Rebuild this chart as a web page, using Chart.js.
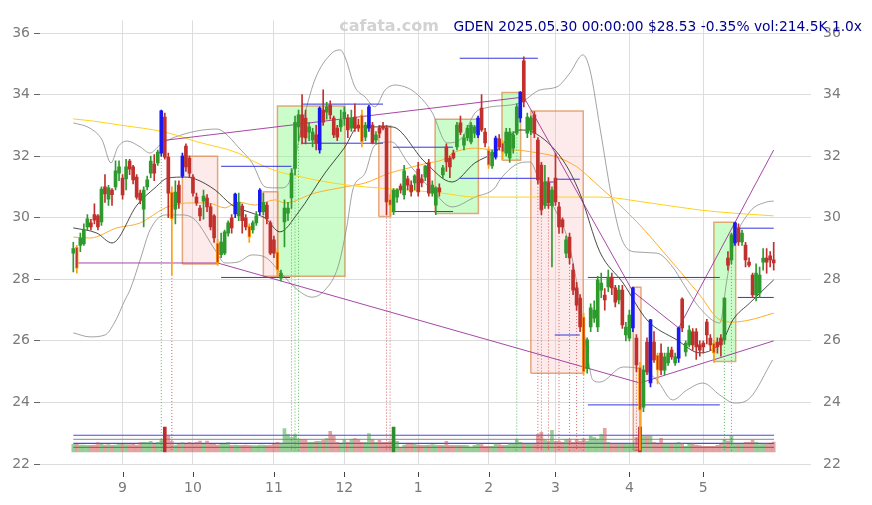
<!DOCTYPE html>
<html>
<head>
<meta charset="utf-8">
<script src="https://cdn.jsdelivr.net/npm/chart.js@4.4.1/dist/chart.umd.min.js"></script>
<style>
  html, body { margin: 0; padding: 0; background: #fff; }
  #wrap { width: 872px; height: 505px; }
</style>
</head>
<body>
<div id="wrap"><canvas id="chart" width="872" height="505"></canvas></div>
<script>
// GDEN daily candles, 2024-08-13 .. 2025-05-30 (x = trading day index)
const titleText = 'GDEN 2025.05.30 00:00:00 $28.53 -0.35% vol:214.5K 1.0x';
const watermark = 'cafata.com';

const monthStarts = [14, 34, 57, 77, 98, 118, 137, 158, 179];
const monthLabels = ['9', '10', '11', '12', '1', '2', '3', '4', '5'];
const priceTicks = [22, 24, 26, 28, 30, 32, 34, 36];

const opens = [
  28.85,29.05,29.1,29.15,29.7,29.83,30.1,30.06,29.86,31.0,
  30.6,30.9,31.0,31.45,31.29,31.26,31.84,31.65,31.32,30.8,
  30.28,31.0,31.45,31.74,31.78,32.1,33.27,31.97,30.83,30.28,
  31.06,31.35,32.33,31.94,31.32,30.67,30.31,30.54,30.64,30.35,
  30.06,29.18,28.8,28.85,29.5,30.0,30.12,30.06,30.38,30.0,
  29.73,29.6,29.83,30.19,30.2,30.41,29.83,29.28,28.89,28.04,
  29.86,30.15,30.64,31.6,32.95,33.34,33.24,32.78,32.52,32.69,
  32.2,33.5,33.43,33.66,33.24,32.91,32.95,33.24,33.24,32.91,
  33.27,33.01,33.34,32.62,32.91,33.01,32.52,32.91,32.98,32.91,
  30.6,30.19,30.67,31.03,30.74,31.26,31.06,31.13,31.58,31.26,
  31.32,31.78,30.8,30.41,30.97,31.39,32.3,31.94,32.1,32.3,
  33.08,32.36,32.59,32.46,32.75,32.69,33.56,32.78,32.2,31.68,
  31.97,32.56,32.43,32.1,31.94,32.26,32.75,33.24,35.1,32.75,
  32.85,33.34,32.52,31.71,30.41,31.13,30.41,31.29,30.35,29.93,
  28.85,29.37,28.3,27.72,27.39,26.78,25.1,26.45,26.74,26.45,
  27.65,27.49,27.75,28.07,27.72,27.33,27.65,26.19,26.09,26.42,
  26.09,25.15,23.85,25.96,24.63,25.96,25.54,25.6,25.05,25.28,
  25.7,25.28,25.44,27.36,25.64,25.87,26.29,26.29,25.87,25.93,
  26.61,26.09,25.93,25.96,26.09,26.03,28.69,28.63,29.18,29.67,
  29.21,29.11,28.56,28.14,27.49,27.55,28.56,28.69,28.76,28.63
];
const highs = [
  29.2,29.1,29.5,29.8,30.1,29.95,30.45,30.1,31.0,31.4,
  31.05,30.95,31.85,31.85,31.4,31.9,31.9,31.7,31.4,30.9,
  31.0,31.35,32.0,32.05,32.2,33.5,33.4,32.1,31.0,31.2,
  31.2,32.1,32.4,32.0,31.4,30.8,30.4,30.9,30.75,30.45,
  30.1,29.3,29.5,29.6,29.9,30.1,30.8,30.8,30.45,30.1,
  29.8,29.9,30.2,30.95,30.8,30.5,29.9,29.4,29.0,28.3,
  30.58,30.5,31.6,33.3,33.5,34.0,33.5,33.1,32.9,33.0,
  33.6,34.15,33.75,33.8,33.3,33.0,33.5,33.6,33.35,33.5,
  33.7,33.2,33.5,33.1,33.65,33.1,32.8,33.0,33.1,33.0,
  30.75,30.95,30.95,31.1,31.7,31.35,31.2,31.4,31.8,31.4,
  31.7,31.9,31.2,31.0,31.1,31.7,32.4,32.0,32.2,33.1,
  33.3,32.7,33.0,33.1,33.0,33.3,34.0,32.9,32.3,32.2,
  32.65,32.7,32.5,32.9,32.9,32.8,33.7,34.1,35.23,33.4,
  33.3,33.45,32.6,31.8,31.7,31.3,31.0,32.1,30.5,30.0,
  29.4,29.5,28.5,27.9,27.5,26.9,26.1,27.2,27.3,28.1,
  28.2,27.7,28.3,28.2,27.8,27.8,27.8,26.6,27.0,27.75,
  26.2,25.3,25.2,26.1,26.7,26.3,25.6,25.9,25.6,25.8,
  25.8,25.6,26.45,27.4,26.0,26.5,26.4,26.4,26.0,26.0,
  26.7,26.2,26.0,26.1,26.2,27.4,28.9,29.5,29.85,29.8,
  29.6,29.2,28.7,28.2,28.5,28.4,29.0,29.0,28.9,29.2
];
const lows = [
  28.24,28.2,28.9,29.1,29.6,29.6,29.8,29.6,29.75,30.5,
  30.4,30.4,30.9,31.2,30.6,30.9,31.4,31.1,30.6,30.45,
  29.7,30.9,31.3,31.2,31.7,32.0,31.9,30.0,28.14,29.8,
  30.3,31.3,31.5,31.3,30.7,30.4,29.9,29.95,30.2,29.6,
  29.2,28.45,28.7,28.8,29.4,29.5,30.0,29.9,29.5,29.6,
  29.2,29.5,29.75,30.1,30.1,29.8,28.8,28.7,28.1,27.95,
  29.05,29.9,30.3,31.4,32.5,32.4,32.4,32.5,32.3,32.2,
  32.1,33.0,33.2,33.2,32.6,32.5,32.8,33.0,32.6,32.8,
  32.8,32.8,32.3,32.5,32.8,32.4,32.4,32.6,32.85,30.1,
  30.1,30.1,30.5,30.8,30.6,30.9,30.7,30.9,30.7,31.0,
  31.2,30.7,30.7,30.1,30.7,31.3,31.5,31.3,31.9,32.2,
  32.7,32.2,32.5,32.4,32.6,32.6,32.8,32.3,31.6,31.6,
  31.9,32.2,31.9,32.0,31.8,32.1,32.7,33.1,33.6,32.6,
  32.7,32.6,31.1,30.1,30.3,30.3,28.4,30.4,29.5,29.5,
  28.7,28.5,27.5,27.0,26.3,24.9,24.95,26.3,26.6,26.3,
  27.4,27.0,27.6,27.5,27.1,27.2,26.4,26.0,26.0,26.3,
  25.0,22.45,23.7,24.9,24.5,25.3,24.6,24.9,24.9,25.2,
  25.4,25.2,25.3,26.3,25.5,25.8,25.7,25.4,25.5,25.6,
  25.9,25.7,25.3,25.6,25.5,25.9,28.3,28.5,29.1,29.1,
  29.1,28.4,28.4,27.4,27.3,27.4,28.3,28.2,28.4,28.3
];
const closes = [
  29.0,28.35,29.34,29.6,29.96,29.7,29.92,29.7,30.93,30.77,
  30.97,30.75,31.52,31.65,30.74,31.65,31.58,31.23,30.67,30.58,
  30.9,31.23,31.84,31.45,32.13,33.47,31.97,30.8,29.96,30.83,
  30.48,32.0,31.65,31.45,30.8,30.48,30.06,30.7,30.35,29.7,
  29.34,28.53,29.21,29.54,29.83,29.67,30.77,30.5,29.9,29.7,
  29.37,29.83,30.06,30.9,30.5,29.96,28.85,28.85,28.3,28.2,
  30.31,30.31,31.45,33.1,33.34,32.62,32.59,32.95,32.78,32.43,
  33.56,33.1,33.6,33.34,32.69,32.62,33.17,33.43,32.85,33.24,
  32.91,32.91,32.46,33.01,33.6,32.43,32.69,32.75,32.91,30.51,
  30.4,30.9,30.9,30.9,31.52,31.06,30.84,31.36,30.84,31.13,
  31.68,30.8,31.06,30.97,30.84,31.62,31.81,31.65,31.94,33.01,
  32.78,32.59,32.91,33.01,32.95,33.24,32.85,32.43,31.71,32.13,
  32.59,32.3,32.13,32.78,32.78,32.69,33.6,34.08,33.76,33.27,
  33.24,32.75,31.23,30.25,31.16,30.48,30.9,30.51,29.7,29.7,
  29.28,28.69,27.65,27.16,26.45,24.99,26.03,27.07,27.0,27.98,
  27.88,27.33,28.07,27.72,27.26,27.65,26.52,26.45,26.84,27.72,
  25.22,23.75,25.05,24.99,26.68,25.38,25.05,25.05,25.48,25.6,
  25.48,25.48,26.42,26.42,25.93,26.35,25.87,25.8,25.7,25.8,
  26.19,25.87,25.6,25.8,25.87,27.39,28.46,29.44,29.83,29.21,
  29.5,28.63,28.46,27.49,28.2,28.14,28.69,28.56,28.63,28.53
];
// volume in thousands
const volumes = [
  165,165,150,150,143,143,150,200,170,150,
  158,143,150,165,165,158,158,165,150,200,
  208,200,229,165,208,265,538,360,229,150,
  165,200,165,208,165,208,237,165,237,165,
  165,150,165,165,208,143,150,143,143,150,
  143,136,136,150,150,143,150,165,208,180,
  502,380,308,380,280,265,265,208,208,229,
  229,250,287,445,351,208,165,265,208,265,
  287,265,208,208,394,265,208,251,208,208,
  222,538,229,86,150,165,165,179,150,143,
  143,150,158,150,143,143,229,143,143,143,
  143,143,136,108,143,179,158,122,122,122,
  179,158,143,143,179,179,265,208,179,179,
  179,179,380,423,265,237,466,229,229,208,
  265,265,208,265,229,280,237,351,308,280,
  380,509,208,179,179,179,179,179,179,179,
  308,538,351,351,344,208,165,294,179,179,
  179,179,208,179,122,165,179,150,136,122,
  122,122,122,143,165,265,237,358,179,179,
  179,208,208,251,208,158,179,179,165,214.5
];

const blueIdx = [25, 31, 46, 53, 70, 84, 115, 120, 127, 159, 164, 172, 188];
const orangeIdx = [1, 28, 41, 50, 58, 82, 90, 118, 122, 145, 161, 166, 182];
const volHiIdx = [26, 91, 161];
const redSignals = [28, 89, 90, 132, 133, 135, 138, 141, 143, 145, 160];
const greenSignals = [25, 62, 63, 64, 126, 185, 187];

// moving averages / bands: [index, price]
const ma20 = [[0,29.67],[6.7,29.5],[11,29.18],[18.1,30.41],[23.2,30.97],[26.9,31.29],[31.7,31.32],[34.6,31.26],
  [40.3,30.9],[45.1,30.41],[50.8,30.15],[54.5,29.99],[58.7,29.54],[63.8,30.15],[71.5,31.45],[77.2,32.3],
  [80.9,32.95],[85.7,32.95],[90.5,32.95],[99.9,31.81],[107.6,31.16],[114.1,31.78],[119.8,32.13],[126.9,32.85],
  [130.6,32.78],[139.1,31.87],[143.9,30.8],[149.6,28.89],[156.2,27.88],[163,26.68],[171.5,26.03],[178,25.61],
  [184.6,26.03],[187.4,26.68],[192.2,27.23],[199,27.98]];
const bandUpper = [[0,33.08],[4.7,32.91],[8.2,32.52],[10.7,31.78],[12.7,32.3],[15.3,32.49],[19,32.3],[21.8,32.1],
  [24.6,32.36],[28.9,32.62],[40.8,32.88],[43.1,32.75],[46.8,32.3],[50.8,31.78],[54.5,31.0],[57.3,30.97],
  [59.3,30.97],[61.6,31.23],[64.9,32.95],[68.6,34.47],[73.5,35.35],[75.8,35.45],[77.2,35.22],[80,34.25],
  [82.9,33.92],[85.7,33.6],[88.6,34.15],[91.4,34.31],[95.1,34.21],[97.9,33.99],[101.9,33.43],[106.2,32.43],
  [110.4,32.59],[114.1,33.4],[116.9,33.56],[126.9,33.73],[132.6,34.15],[137.4,34.25],[141.1,34.7],[144.8,35.29],
  [146.8,34.8],[149.6,32.95],[153.1,30.58],[155.9,29.28],[159.6,28.89],[165.8,28.85],[170.3,28.4],[173.2,27.88],
  [178,27.07],[183.7,26.58],[185.7,27.98],[187.4,29.05],[192.2,30.19],[197,30.51],[199,30.54]];
const bandLower = [[0,26.26],[4.7,26.13],[9,26.19],[11.8,26.61],[14.7,27.33],[16.1,27.65],[19,28.63],[21.8,29.6],
  [26.1,30.09],[30.9,30.09],[34.6,29.93],[40.3,28.95],[43.1,28.53],[46.8,28.56],[50.8,28.79],[54.5,28.72],
  [58.7,28.24],[63.8,27.65],[67.8,27.42],[71.5,27.65],[75.2,28.4],[77.7,29.7],[79.4,30.9],[82.9,31.45],
  [85.7,32.36],[90.5,32.46],[95.1,31.78],[101.9,30.9],[107.6,30.35],[114.1,30.67],[119.8,30.97],[121.2,31.23],
  [126.9,31.78],[129.8,31.81],[132.6,31.13],[137.4,30.15],[140.3,29.37],[142,28.53],[144,27.23],[145.9,25.7],
  [147.6,24.73],[149.6,24.66],[156.2,25.15],[161.9,25.05],[165.8,24.73],[170.3,24.08],[174.3,24.4],[178.9,24.63],
  [183.7,24.24],[187.9,23.98],[192.2,24.14],[198.7,25.38]];
const ma50 = [[0,29.37],[4.7,29.34],[12.4,29.67],[19,29.83],[26.1,30.32],[28.9,30.41],[32.6,30.48],[38.3,30.48],
  [43.1,30.32],[46.8,30.51],[51.6,30.41],[57.3,30.58],[60.1,30.48],[68.6,30.8],[77.2,31.0],[82.9,31.13],
  [89.9,31.45],[95.1,31.61],[100.8,31.78],[104.7,31.87],[108.4,32.13],[114.1,32.26],[119.8,32.2],[124.9,32.2],
  [130.6,32.13],[137.4,31.97],[143.1,31.65],[146.8,31.29],[149.6,31.0],[155.3,30.41],[161,29.76],[167.2,28.95],
  [178,27.49],[183.7,26.68],[187.4,26.61],[192.2,26.68],[199,26.9]];
const ma200 = [[0,33.21],[5.6,33.14],[13.3,33.01],[26.1,32.78],[35.4,32.46],[46.8,32.1],[51.6,31.81],[58.7,31.48],
  [62.1,31.39],[73.5,31.13],[82.9,31.0],[95.1,30.9],[104.7,30.8],[114.1,30.67],[126.9,30.67],[138.3,30.67],
  [149.6,30.67],[163.8,30.48],[178,30.25],[187.4,30.15],[199,30.06]];

// trend lines [index, price]
const upperTrend = [[25, 32.5], [128, 33.92], [159, 27.6], [172, 26.42], [199, 32.2]];
const lowerTrend = [[1, 28.53], [41, 28.53], [161, 24.63], [199, 26.0]];

// level segments [fromIndex, toIndex, price]
const levels = [[42, 62, 31.67], [42, 61.6, 28.06], [64.9, 88, 33.69], [64.9, 88, 32.42],
  [90.8, 107.9, 32.29], [90.8, 107.9, 30.2], [109.8, 132.6, 31.28], [109.8, 132, 35.18],
  [136.8, 143.9, 31.25], [136.8, 143.9, 26.19], [134, 136.5, 31.16], [134, 136.5, 30.41],
  [146.2, 183.7, 28.06], [146.2, 183.7, 23.92], [188.8, 199, 29.66], [188.8, 199, 27.41]];

// zones [fromIndex, toIndex, low, high, kind]
const zones = [[31, 41, 28.5, 32.0, 'r'], [54, 58.1, 28.1, 30.84, 'r'], [58, 77.2, 28.1, 33.63, 'g'],
  [86.8, 90.2, 30.04, 32.98, 'r'], [102.8, 115.1, 30.14, 33.2, 'g'], [121.8, 127.1, 31.87, 34.07, 'g'],
  [130, 144.9, 24.95, 33.47, 'r'], [159.1, 161.3, 22.45, 27.74, 'r'], [182, 188.2, 25.33, 29.85, 'g']];

// volume reference levels (thousands)
const volLevels = [360, 273, 187, 101];
const volLevelColors = ['#4a4ae0', '#a0a0a0', '#4a4ae0', '#707070'];

const UP = '#2e9a2e', DOWN = '#c0302c', BLUE = '#1a1af0', ORANGE = '#ffa010';
const signalBase = 22.42;

const idx = closes.map((_, i) => i);
function kind(i) {
  if (blueIdx.includes(i)) return 'b';
  if (orangeIdx.includes(i)) return 'o';
  return closes[i] >= opens[i] ? 'u' : 'd';
}
function bodyColor(i) {
  const k = kind(i);
  if (k === 'b') return BLUE;
  return closes[i] >= opens[i] ? UP : DOWN;
}
function wickColor(i) {
  const k = kind(i);
  if (k === 'b') return BLUE;
  if (k === 'o') return ORANGE;
  return bodyColor(i);
}
function volColor(i) {
  const up = closes[i] >= opens[i];
  if (volHiIdx.includes(i)) return up ? '#2e8b2e' : '#c02a2a';
  return up ? 'rgba(70,165,70,0.55)' : 'rgba(205,85,85,0.55)';
}
const pts = arr => arr.map(([x, y]) => ({x, y}));

function lineSet(data, color, width, order, extra) {
  return Object.assign({
    type: 'line', data, borderColor: color, borderWidth: width, pointRadius: 0,
    fill: false, order, yAxisID: 'y'
  }, extra || {});
}

function signalLine(list) {
  const out = [];
  list.forEach(i => {
    out.push({x: i, y: lows[i]}, {x: i, y: signalBase}, {x: i, y: null});
  });
  return out;
}

const levelPts = [];
levels.forEach(([a, b, p]) => levelPts.push({x: a, y: p}, {x: b, y: p}, {x: b, y: null}));

const datasets = [];

zones.forEach(([a, b, lo, hi, k]) => {
  datasets.push(lineSet(
    [{x: a, y: lo}, {x: b, y: lo}, {x: b, y: hi}, {x: a, y: hi}, {x: a, y: lo}],
    'rgba(222,140,80,0.75)', 1.5, 20,
    {fill: 'shape', backgroundColor: k === 'g' ? 'rgba(140,250,140,0.45)' : 'rgba(250,190,190,0.3)'}
  ));
});

volLevels.forEach((v, j) => {
  datasets.push(lineSet([{x: 0, y: v}, {x: 199.1, y: v}], volLevelColors[j], 1.2, 19, {yAxisID: 'yv'}));
});

datasets.push({
  type: 'bar', data: idx.map(i => ({x: i, y: volumes[i]})), yAxisID: 'yv',
  backgroundColor: idx.map(volColor), barThickness: 3, grouped: false, order: 18
});

datasets.push(lineSet(pts(bandUpper), '#8c8c8c', 0.8, 12, {cubicInterpolationMode: 'monotone'}));
datasets.push(lineSet(pts(bandLower), '#8c8c8c', 0.8, 12, {cubicInterpolationMode: 'monotone'}));
datasets.push(lineSet(pts(ma200), '#ffd21a', 1, 11, {cubicInterpolationMode: 'monotone'}));
datasets.push(lineSet(pts(ma50), '#ffad2a', 1, 11, {cubicInterpolationMode: 'monotone'}));
datasets.push(lineSet(pts(ma20), '#1e1e1e', 0.8, 10, {cubicInterpolationMode: 'monotone'}));

datasets.push(lineSet(signalLine(redSignals), 'rgba(205,50,50,0.75)', 1, 9, {borderDash: [1, 2]}));
datasets.push(lineSet(signalLine(greenSignals), 'rgba(40,160,40,0.75)', 1, 9, {borderDash: [1, 2]}));

datasets.push(lineSet(levelPts, '#3535dd', 1, 8));
datasets.push(lineSet(pts(upperTrend), 'rgba(150,40,150,0.85)', 1, 7));
datasets.push(lineSet(pts(lowerTrend), 'rgba(150,40,150,0.85)', 1, 7));

datasets.push({
  type: 'bar', data: idx.map(i => ({x: i, y: [lows[i], highs[i]]})), yAxisID: 'y',
  backgroundColor: idx.map(wickColor), barThickness: 1, grouped: false, order: 2
});
datasets.push({
  type: 'bar', data: idx.map(i => ({x: i, y: [opens[i], closes[i]]})), yAxisID: 'y',
  backgroundColor: idx.map(bodyColor),
  borderColor: idx.map(i => kind(i) === 'o' ? ORANGE : bodyColor(i)),
  borderWidth: idx.map(i => kind(i) === 'o' ? 1 : 0),
  borderSkipped: false, barThickness: 3, grouped: false, order: 1
});

const overlay = {
  id: 'overlay',
  beforeDatasetsDraw(chart) {
    const ctx = chart.ctx;
    ctx.save();
    ctx.font = 'bold 16px "DejaVu Sans"';
    ctx.fillStyle = '#d2d2d2';
    ctx.textAlign = 'center';
    ctx.fillText(watermark, 389, 31);
    ctx.restore();
  },
  afterDraw(chart) {
    const ctx = chart.ctx;
    ctx.save();
    ctx.font = '13.8px "DejaVu Sans"';
    ctx.fillStyle = '#00008f';
    ctx.textAlign = 'right';
    ctx.fillText(titleText, 862, 31);
    const xs = chart.scales.x;
    ctx.strokeStyle = '#444';
    ctx.lineWidth = 1;
    xs.ticks.forEach(t => {
      const px = Math.round(xs.getPixelForValue(t.value)) + 0.5;
      ctx.beginPath();
      ctx.moveTo(px, 472);
      ctx.lineTo(px, 477);
      ctx.stroke();
    });
    ctx.restore();
  }
};

Chart.defaults.font.family = '"DejaVu Sans"';

const chart = new Chart(document.getElementById('chart'), {
  type: 'bar',
  data: { datasets },
  plugins: [overlay],
  options: {
    responsive: false,
    animation: false,
    layout: { padding: { top: 0, left: 0, right: 0, bottom: 0 } },
    plugins: { legend: { display: false }, tooltip: { enabled: false } },
    scales: {
      x: {
        type: 'linear', min: -9.46, max: 209.6, offset: false,
        afterBuildTicks: s => { s.ticks = monthStarts.map(v => ({value: v})); },
        afterFit: s => { s.height = 41; },
        grid: { color: '#dddddd', drawTicks: false, offset: false },
        border: { display: false },
        ticks: {
          autoSkip: false, maxRotation: 0, padding: 16, color: '#7a7a7a', font: { size: 14 },
          callback: v => monthLabels[monthStarts.indexOf(v)]
        }
      },
      y: {
        type: 'linear', position: 'left', min: 22, max: 36.75,
        afterBuildTicks: s => { s.ticks = priceTicks.map(v => ({value: v})); },
        afterFit: s => { s.width = 40; },
        grid: { color: '#dddddd', tickLength: 6, tickColor: '#666' },
        border: { display: false },
        ticks: { padding: 4, color: '#7a7a7a', font: { size: 14 } }
      },
      y2: {
        type: 'linear', position: 'right', min: 22, max: 36.75,
        afterBuildTicks: s => { s.ticks = priceTicks.map(v => ({value: v})); },
        afterFit: s => { s.width = 61; },
        grid: { drawOnChartArea: false, drawTicks: false },
        border: { display: false },
        ticks: { padding: 12, color: '#7a7a7a', font: { size: 14 } }
      },
      yv: { type: 'linear', display: false, min: -260, max: 9500 }
    }
  }
});

// fit the price range so that 36 sits at the same height as in the source picture
const area = chart.chartArea;
const top36 = 33;
const span = area.bottom - area.top;
const priceMax = 22 + 14 * span / (area.bottom - top36);
chart.options.scales.y.max = priceMax;
chart.options.scales.y2.max = priceMax;
const kPerPx = 21.5;
chart.options.scales.yv.min = -12 * kPerPx;
chart.options.scales.yv.max = (span - 12) * kPerPx;
chart.update();
</script>
</body>
</html>
